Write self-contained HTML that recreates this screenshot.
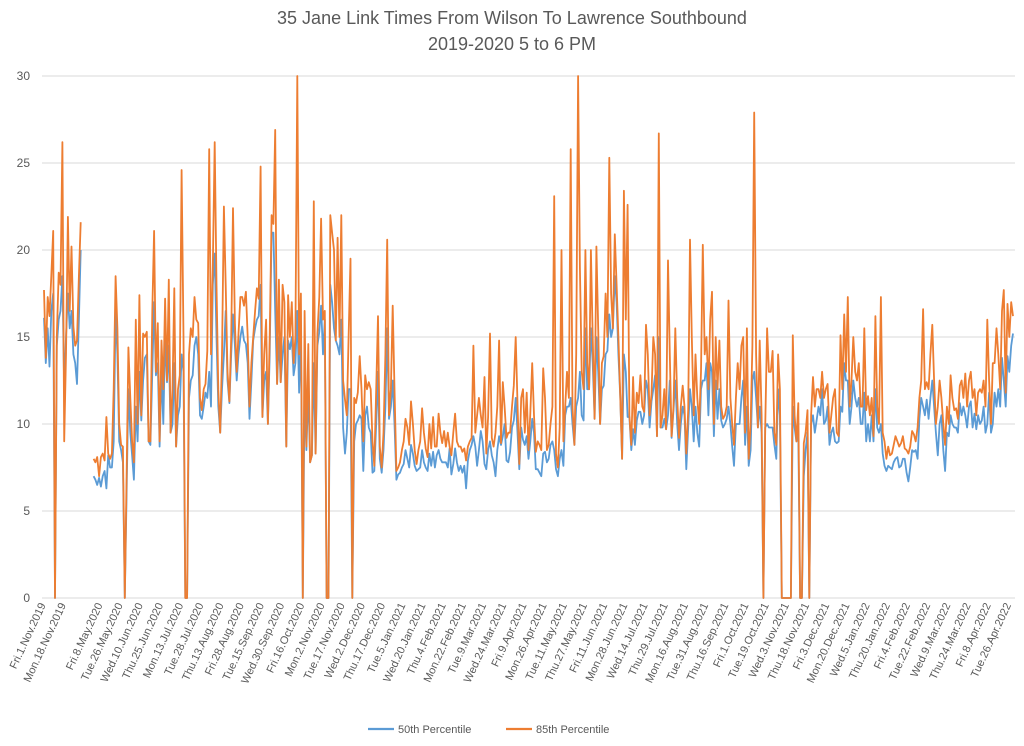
<!DOCTYPE html>
<html><head><meta charset="utf-8">
<style>
body{margin:0;background:#fff;width:1024px;height:741px;overflow:hidden;font-family:"Liberation Sans",sans-serif;}
svg text{font-family:"Liberation Sans",sans-serif;}
</style></head>
<body>
<svg id="chart" width="1024" height="741" xmlns="http://www.w3.org/2000/svg">
<text x="512" y="24" text-anchor="middle" font-size="18" fill="#595959">35 Jane Link Times From Wilson To Lawrence Southbound</text>
<text x="512" y="50" text-anchor="middle" font-size="18" fill="#595959">2019-2020 5 to 6 PM</text>
<g id="grid"></g><g id="xlabels"></g><g id="series"></g>
<g>
<line x1="368" y1="729" x2="394" y2="729" stroke="#5B9BD5" stroke-width="2.2"/>
<text x="398" y="733" font-size="11" fill="#595959">50th Percentile</text>
<line x1="506" y1="729" x2="532" y2="729" stroke="#ED7D31" stroke-width="2.2"/>
<text x="536" y="733" font-size="11" fill="#595959">85th Percentile</text>
</g>
</svg>
<script>
const tickLabels=["Fri.1.Nov.2019","Mon.18.Nov.2019","Fri.8.May.2020","Tue.26.May.2020","Wed.10.Jun.2020","Thu.25.Jun.2020","Mon.13.Jul.2020","Tue.28.Jul.2020","Thu.13.Aug.2020","Fri.28.Aug.2020","Tue.15.Sep.2020","Wed.30.Sep.2020","Fri.16.Oct.2020","Mon.2.Nov.2020","Tue.17.Nov.2020","Wed.2.Dec.2020","Thu.17.Dec.2020","Tue.5.Jan.2021","Wed.20.Jan.2021","Thu.4.Feb.2021","Mon.22.Feb.2021","Tue.9.Mar.2021","Wed.24.Mar.2021","Fri.9.Apr.2021","Mon.26.Apr.2021","Tue.11.May.2021","Thu.27.May.2021","Fri.11.Jun.2021","Mon.28.Jun.2021","Wed.14.Jul.2021","Thu.29.Jul.2021","Mon.16.Aug.2021","Tue.31.Aug.2021","Thu.16.Sep.2021","Fri.1.Oct.2021","Tue.19.Oct.2021","Wed.3.Nov.2021","Thu.18.Nov.2021","Fri.3.Dec.2021","Mon.20.Dec.2021","Wed.5.Jan.2022","Thu.20.Jan.2022","Fri.4.Feb.2022","Tue.22.Feb.2022","Wed.9.Mar.2022","Thu.24.Mar.2022","Fri.8.Apr.2022","Tue.26.Apr.2022"];
const tickIndex=[0,11,31,42,53,64,75,86,97,108,119,130,141,152,163,174,185,196,207,218,229,240,251,262,273,284,295,306,317,328,339,350,361,372,383,394,405,416,427,438,449,460,471,482,493,504,515,526];
const yTicks=[0,5,10,15,20,25,30];
const p85=[17.7,13.8,17.3,16.2,18.5,21.1,0,15,18.7,18,26.2,9,14,21.9,16.5,20.2,15.6,14.5,14.8,18.5,21.6,
null,null,null,null,null,null,
8,7.8,8.1,7,8.1,8.3,7.9,10.4,8.3,8,
8.3,12,18.5,15.5,10,8.8,8.7,0,7,14.4,11.5,9,7.8,16,10,17.4,10.5,15.2,15,15.3,9,9,16.5,21.1,13,15.8,9,14.8,12,17.2,12.5,18.3,9.5,12,17.8,8.7,12,12.8,24.6,15,0,0,14,15.5,15,17.3,16,15.8,11.5,10.8,12,12.3,14.2,25.8,
14,19,26.2,18,12,9.5,14,22.5,18,13,11.3,15,22.4,15.8,13,15.2,17.3,17.3,16.8,17.6,15,11,13.5,15,16.5,17.8,17.2,24.8,10.4,14,16,10,15,22,21.5,26.9,12.3,18.3,12.4,18,17,8.7,17.4,15,17,13.5,15,30,14,17.5,0,16.5,8.7,14.6,7.8,8.2,22.8,8.3,15.2,17.3,21.8,16,16.5,0,0,22,21,20,14.8,20.7,15,22,12.5,11.4,10.5,15,19.5,0,11.5,11.2,11.8,13.9,12,9,12.8,12,12.4,
12,9,7.6,12,16.2,8.7,7.5,9.5,14,20.6,10.5,12,16.8,12,7.3,7.5,7.8,8.5,9,10.3,9.8,8.8,11.3,10,8.5,7.7,8.5,9,10.9,9.5,8.6,8.1,10,8.6,10.4,8.7,8.7,10.6,9.5,8.9,9.6,8.7,9.5,8.7,8.2,9.5,10.6,9,8.7,8.7,8.4,8.6,7.9,8.7,9,9.2,14.5,9.5,10.5,11.5,10.5,9.8,12.7,8.3,10.4,15.2,9.2,8.7,9.5,11,14.8,8.9,12.4,11,9.2,9.5,9.5,11,12.2,15,11.2,7.7,11.5,12,9.5,11.8,8.5,
10.6,13.5,10.5,8.4,9,8.8,8.5,13.2,11.5,8.5,8.8,10,11,23.1,8.3,7.5,9.8,20,9,11,13,11.5,25.8,11,8.8,14,30,19,13,12,20,13.5,12,20,15,10.3,20.2,15.5,10,13.5,13.9,17.5,15,25.3,17.5,15.5,20.9,18,15,11.5,8,23.4,16,22.6,10.5,8.8,12.7,9.5,11.8,11.2,12.8,11,10.7,15.7,14,10.5,11.7,15,14,9.3,26.7,9.8,10.5,12,9.7,19.4,14,9.3,11,15.5,11.5,9.2,11,12.2,11,8.3,10.8,
20.6,15,10.5,14,11.5,10,13,20.3,14,15,12,16,17.6,10,15,12,14.8,11,10.3,10.5,11,17.1,11.5,10,8.8,11.5,13.5,12,14.5,15,9.5,15.5,8,10,14.5,27.9,14,9.8,14.8,10.5,0,9.8,15.5,13,13,14.2,9.5,8.8,14,12,0,0,0,0,0,0,15.1,10.5,9,11.2,0,0,8.9,9.5,10.8,0,10.5,12.7,11,12,12,11.5,13,11.5,12,12.3,9.5,10.5,11.5,12,9.5,9.3,15.1,12,16.3,13,17.3,
11,12.5,15,13,12.5,13.5,11,11,15.5,10.8,11.6,10.5,11.5,9.3,16.2,11,10,17.3,9.5,9,8,8.7,8.2,8.3,8.8,9.3,9,8.7,8.9,9.3,8.6,8.5,8.3,8.7,9.6,9.4,9,9.8,11.5,12.5,16.6,12,12.4,12,14,15.7,12.5,10,11,12.5,11.5,10,8.8,11,10,12.8,11.5,10.8,10.9,10.3,12.2,12.5,11.5,12.9,11,12.5,13,11.5,12,10.5,11.8,12,11.8,12.5,11,16,12.5,10,13.5,13.5,15.5,14,12,16.5,17.7,11.8,16.9,15,17,16.2];
const p50=[16.1,13.5,15.5,13.3,16.5,17.5,0,14.5,16,16.5,18.5,12,15,17.5,15.5,16.5,14,13.5,12.3,16,20,
null,null,null,null,null,null,
7,6.8,6.5,6.9,6.4,7,7.3,6.3,8.2,7.5,
7.5,9,16.5,14,9,8.5,7.8,0,6,12,9.5,8.2,6.8,11,9,13,10.2,12.5,13.8,14,9,8.8,13,17,12.8,13.5,8.7,13,10,15,12.4,14.5,9.5,10,13.5,8.7,10.5,11,14,13,0,0,11.5,12.5,12.8,14.5,15,14,10.5,10.3,11,11.8,11.5,13,
11,18,19.8,15,11,9.5,12,14,16.5,12.5,11.2,14,16.3,14.5,12.5,14,15,15.6,14.8,14.6,13.5,10.3,12.5,14.8,15.5,16,16.2,18,10.4,12.5,13,10,14,21,21,16.5,12.3,15,12.4,14,15,8.7,14.8,14.3,15,12.8,13.5,16.5,11.8,15.5,0,12,8.5,12,7.8,8.2,13.5,8.3,14.5,15.3,16.8,14,16,0,0,18,17,15.5,14.8,14.5,14,16,9.8,8.3,9.5,12,12,0,9,10,10.2,10.5,10.3,7.3,10.5,11,9.8,
9.5,7.2,7.3,10,13,8,7.2,8.5,11,15.5,10.3,11,12.5,10,6.8,7.1,7.2,7.5,7.7,8.5,8,7.5,8.8,8.3,7.6,7.3,7.4,7.5,8.5,7.8,7.5,7.3,8.3,7.6,8.4,7.5,8.2,8.5,8,7.8,7.8,7.8,7.5,8.6,7.1,7.7,8.6,7.8,7.3,7.6,7.2,7.6,6.3,7.9,8.5,8.8,9.3,8.7,7.6,8.5,9.6,9,7.7,7.4,8.5,9,8.2,7.8,7,8.5,9.3,8.8,9.3,10,7.9,7.8,8.4,9.8,10.2,11.5,9.5,7.4,9.8,9.1,8.8,9.3,8,
9,10.3,9.5,7.4,7.4,7.2,7,8.3,8.4,7.8,8,8.8,9,8.5,7.4,7,8,8.5,7.6,10.5,11,11,11.5,10,8.8,11,11.5,13,10.5,10.2,15.5,12,12,15.5,13.5,10.3,15,13,10,12,12.2,14,14.2,16.3,15,15.5,18.5,17,14,11.5,8,14,13,10.4,10.4,8.5,9.7,8.8,10.2,10.7,10.7,10,10.5,12.5,12,9.8,11.3,12,12.8,9.3,15,9.8,9.8,10.3,9.7,10.5,12.5,9.2,10.8,12.5,10,8.5,10,11,10.5,7.4,9.8,
12,11,9,11,9.5,8.7,12,12.5,12.5,13.5,10.5,13.5,13,9.3,12.5,10.3,12,10.2,9.8,10,10.3,11,10,8.7,7.6,10,10,10,11.5,12.5,8.8,11,7.6,8.5,12.5,13,11.5,9.8,11,9.5,0,9.8,10,9.8,9.8,9.8,8.8,8,12,10.5,0,0,0,0,0,0,11,9.8,9,9.5,0,0,7,8.5,9.5,0,10,10.5,9.5,10.2,11,10.5,12,10,10.2,11,8.8,9.5,9.8,9,8.9,9,11,10.7,13.5,12.5,12.5,
10,11,12.5,11.5,11,11.5,10,10,11.8,9,10,9,10.5,9,12,9.8,9.5,10,8.3,7.6,7.3,7.6,7.5,7.4,7.8,8,8.1,7.5,7.6,8,8,7.2,6.7,7.5,8.5,8.4,8.5,8,10.3,11.5,11,10.5,11.4,10.3,11.5,12.5,11,9.5,8.2,10,10.5,8.5,7.3,9.5,9.3,10.5,10,9.8,9.8,9.5,11.2,10.5,11,10.5,9.8,11,11.3,9.8,10.6,9.7,10.5,10,10.2,11,9.5,10,11.8,9.5,10,11.8,11,12,11,13.8,12.5,11,13.9,13,14.5,15.2];

const NS='http://www.w3.org/2000/svg';
const X0=44,X1=1013,Y0=598,Y1=76,N=p85.length;
function xAt(i){return X0+i*(X1-X0)/(N-1);}
function yAt(v){return Y0-(v/30)*(Y0-Y1);}
const grid=document.getElementById('grid');
yTicks.forEach(t=>{
  const l=document.createElementNS(NS,'line');
  l.setAttribute('x1',42);l.setAttribute('x2',1015);
  l.setAttribute('y1',yAt(t));l.setAttribute('y2',yAt(t));
  l.setAttribute('stroke','#d9d9d9');l.setAttribute('stroke-width','1');
  
  
  grid.appendChild(l);
  const tx=document.createElementNS(NS,'text');
  tx.setAttribute('x',30);tx.setAttribute('y',yAt(t)+4);
  tx.setAttribute('text-anchor','end');tx.setAttribute('font-size','12');tx.setAttribute('fill','#595959');
  tx.textContent=t;
  
  
  grid.appendChild(tx);
});
const xl=document.getElementById('xlabels');
tickLabels.forEach((s,k)=>{
  const x=xAt(tickIndex[k])+2,y=605;
  const t=document.createElementNS(NS,'text');
  t.setAttribute('transform','translate('+x+','+y+') rotate(-65)');
  t.setAttribute('text-anchor','end');t.setAttribute('font-size','11');t.setAttribute('fill','#595959');
  t.textContent=s;
  
  
  xl.appendChild(t);
});
function draw(arr,color,name){
  let d='',pen=false;
  arr.forEach((v,i)=>{
    if(v===null){pen=false;return;}
    d+=(pen?'L':'M')+xAt(i).toFixed(1)+' '+yAt(v).toFixed(1);pen=true;
  });
  const p=document.createElementNS(NS,'path');
  p.setAttribute('d',d);p.setAttribute('fill','none');p.setAttribute('stroke',color);
  p.setAttribute('stroke-width','1.8');p.setAttribute('stroke-linejoin','round');
  
  
  document.getElementById('series').appendChild(p);
}
draw(p50,'#5B9BD5','series-50th-percentile');
draw(p85,'#ED7D31','series-85th-percentile');
</script>
</body></html>
